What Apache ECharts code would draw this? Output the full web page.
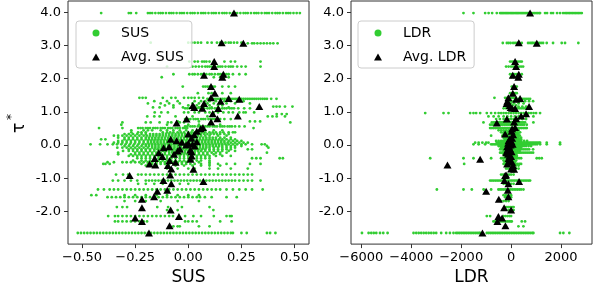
<!DOCTYPE html>
<html><head><meta charset="utf-8">
<script src="https://cdn.jsdelivr.net/npm/echarts@6/dist/echarts.min.js"></script>
<style>html,body{margin:0;padding:0;background:#fff}#c{width:594px;height:291px}</style>
</head><body><div id="c"></div>
<script>
const yTicks=[-2,-1,0,1,2,3,4];
const susTicks=[-0.5,-0.25,0,0.25,0.5];
const ldrTicks=[-6000,-4000,-2000,0,2000];

// green points, SUS panel: [tau, [SUS values]]
const susRows=[
[3.97,[-.41,-.28,-.27,-.245,-.19,-.18,-.17,-.155,-.14,-.13,-.12,-.105,-.09,-.08,-.07,-.055,-.04,-.03,-.02,-.005,.01,.02,.03,.045,.06,.07,.08,.095,.11,.12,.13,.145,.16,.17,.18,.195,.21,.22,.23,.245,.26,.27,.28,.295,.31,.32,.33,.345,.36,.37,.38,.395,.41,.42,.43,.445,.46,.47,.48,.495,.51,.525]],
[3.08,[-.177,0,.015,.03,.045,.06,.09,.11,.135,.15,.16,.175,.19,.2,.215,.23,.25]],
[3.06,[.28,.3,.31,.325,.34,.355,.37,.385,.4,.42]],
[2.51,[.005,.03,.045,.065,.075,.085,.1,.12,.17,.2,.22,.34]],
[2.36,[-.1,.02,.035,.05,.065,.08,.09,.1,.11,.125,.14,.15,.16,.175,.19,.2,.21,.23,.25,.27,.34]],
[2.13,[-.07,.005,.02,.03,.045,.06,.07,.085,.1,.11,.125,.14,.15,.16,.17,.18,.19,.21,.24,.27]],
[2.04,[-.125,.12,.15,.17,.19]],
[1.76,[-.026,.07,.08,.09,.1,.115,.125,.16,.19,.22]],
[1.56,[.045,.095,.11,.125,.16,.2]],
[1.42,[-.23,-.215,-.2,-.12,-.08,-.06,-.02,0,.015,.03,.05,.07]],
[1.39,[.09,.1,.11,.12,.13,.14,.15,.16,.17,.18,.19,.2,.21,.22,.23,.24,.25,.26,.27,.28,.29,.3,.31,.32,.33,.34,.35,.36,.37,.39,.415]],
[1.32,[-.16,-.1,-.05,.03,.06,.08,.1,.13,.17,.2,.23,.26]],
[1.25,[-.19,-.13,-.09,-.04,.02,.05,.09,.12,.15,.18,.22,.29]],
[1.19,[-.11,-.07,0,.04,.07,.1,.14,.16]],
[1.155,[.4,.415,.43,.455,.49]],
[1.13,[-.166,-.135,-.07,-.025,.05,.11,.19]],
[1.105,[-.015,-.005,.005,.02,.03,.04,.055,.065,.075,.09,.1,.11,.125,.135,.145,.16,.17,.18,.195,.205,.215,.235,.263,.29,.333]],
[0.98,[-.158,-.127,-.096,-.02,0,.03,.05,.08,.1,.12,.14,.165,.19,.21,.24,.26,.27,.31]],
[0.93,[.416,.44,.463]],
[0.86,[-.193,-.16,-.135,-.06,.02,.09,.374,.396,.416,.455]],
[0.78,[-.015,0,.01,.025,.035,.045,.06,.07,.08,.095,.105,.115,.125,.15,.17,.2]],
[0.71,[-.05,.05,.29,.314,.338]],
[0.68,[-.31,-.2,-.177,-.135,-.096,-.08,-.04,-.02,.48]],
[0.61,[-.315,-.1,-.05,0,.05,.1,.15]],
[0.56,[-.015,-.005,.01,.02,.03,.045,.055,.065,.08,.09,.1,.115,.125,.135,.15,.16,.17,.185,.195,.205,.22,.24,.265]],
[0.51,[-.42,-.31,-.236,-.225,-.215,-.2,-.19,-.18,-.165,-.155,-.145,-.13,-.12,-.11,-.095,-.085,-.075,-.06,-.05,-.04,-.025,-.015,-.005,.307]],
[0.44,[-.268,-.21,-.19,-.17,-.13,-.1,-.07,-.04,-.01,.02,.05,.08,.12,.16]],
[0.38,[-.268,-.236,-.22,-.2,-.12,-.1,-.085,-.07,-.05,-.035,-.02,0,.015,.03,.05,.065,.08,.1,.115,.13,.15,.165,.19,.21,.22]],
[0.33,[-.3,-.28,-.26,-.24,-.22,-.2,-.18,-.165,-.15,-.135,-.12,-.105,-.09,-.075,-.06,-.045,-.03,-.015,0,.015,.03,.045,.06,.075,.09,.105,.12,.135,.15,.17,.19]],
[0.28,[-.35,-.33,-.31,-.29,-.27,-.25,-.23,-.21,-.195,-.18,-.165,-.15,-.135,-.12,-.105,-.09,-.075,-.06,-.045,-.03,-.015,0,.015,.03,.045,.06,.08,.1,.14,.18]],
[0.22,[-.33,-.3,-.28,-.26,-.24,-.22,-.2,-.185,-.17,-.155,-.14,-.125,-.11,-.095,-.08,-.065,-.05,-.035,-.02,-.005,.01,.025,.04,.055,.07,.085,.1,.115,.13,.15,.17,.2]],
[0.17,[-.41,-.39,-.3,-.28,-.26,-.24,-.22,-.2,-.185,-.17,-.155,-.14,-.125,-.11,-.095,-.08,-.065,-.05,-.035,-.02,-.005,.01,.025,.04,.055,.07,.085,.1,.115,.13,.145,.16,.18,.2,.22]],
[0.12,[-.33,-.31,-.29,-.27,-.25,-.23,-.21,-.19,-.175,-.16,-.145,-.13,-.115,-.1,-.085,-.07,-.055,-.04,-.025,-.01,.005,.02,.035,.05,.065,.08,.095,.11,.125,.14,.155,.17,.19,.21,.23,.25]],
[0.07,[-.35,-.33,-.31,-.29,-.27,-.25,-.23,-.21,-.19,-.175,-.16,-.145,-.13,-.115,-.1,-.085,-.07,-.055,-.04,-.025,-.01,.005,.02,.035,.05,.065,.08,.095,.11,.125,.14,.155,.17,.185,.2,.22,.24,.26,.28]],
[0.02,[-.46,-.415,-.38,-.355,-.335,-.315,-.295,-.275,-.255,-.235,-.215,-.2,-.185,-.17,-.155,-.14,-.125,-.11,-.095,-.08,-.065,-.05,-.035,-.02,-.005,.01,.025,.04,.055,.07,.085,.1,.115,.13,.145,.16,.175,.19,.21,.23,.25,.27,.3,.345,.36]],
[-0.03,[-.3,-.28,-.26,-.24,-.22,-.2,-.185,-.17,-.155,-.14,-.125,-.11,-.095,-.08,-.065,-.05,-.035,-.02,-.005,.01,.025,.04,.055,.07,.085,.1,.115,.13,.145,.16,.18,.2,.22,.25,.37]],
[-0.08,[-.334,-.31,-.29,-.27,-.25,-.23,-.21,-.19,-.17,-.155,-.14,-.125,-.11,-.095,-.08,-.065,-.05,-.035,-.02,-.005,.01,.025,.04,.055,.07,.085,.1,.12,.14,.16,.18,.2,.22,.377]],
[-0.13,[-.28,-.26,-.24,-.22,-.2,-.18,-.16,-.145,-.13,-.115,-.1,-.085,-.07,-.055,-.04,-.025,-.01,.005,.02,.035,.05,.065,.08,.1,.12,.14,.16,.18,.2,.28,.3]],
[-0.18,[-.307,-.28,-.26,-.24,-.22,-.2,-.18,-.16,-.14,-.12,-.105,-.09,-.075,-.06,-.045,-.03,-.015,0,.015,.03,.045,.06,.08,.1,.12,.14,.16,.19,.22]],
[-0.23,[-.33,-.25,-.23,-.21,-.19,-.17,-.15,-.13,-.11,-.09,-.075,-.06,-.045,-.03,-.015,0,.015,.03,.05,.07,.09,.11,.13,.15,.18,.37]],
[-0.28,[-.33,-.27,-.25,-.23,-.21,-.19,-.17,-.15,-.13,-.11,-.09,-.07,-.05,-.035,-.02,-.005,.01,.03,.05,.07,.09,.12,.15]],
[-0.33,[-.28,-.26,-.24,-.22,-.2,-.18,-.16,-.14,-.12,-.1,-.08,-.06,-.04,-.02,0,.02,.04,.06,.08,.1,.13,.16,.2]],
[-0.40,[-.24,-.22,-.2,-.18,-.16,-.14,-.12,-.1,-.08,-.06,-.04,-.02,0,.02,.04,.06,.08,.1,.3,.32,.34,.43,.445]],
[-0.47,[-.26,-.22,-.2,-.18,-.16,-.14,-.12,-.1,-.08,-.06,-.04,-.02,0,.02,.04,.06,.1]],
[-0.52,[-.38,-.35,-.31,-.29,-.27,-.25,-.23,-.21,-.19,-.17,-.15,-.13,-.11,-.09,-.07,-.05,-.03,-.01,.05,.1]],
[-0.57,[-.40,-.39,-.37,-.22,-.19,-.17,-.15,-.13,-.11,-.09,-.07,-.05,-.03,-.01,.01,.03,.06,.1,.14,.18,.22,.29,.34]],
[-0.62,[-.2,-.15,-.1,-.06,-.02,.02,.06,.1,.15]],
[-0.71,[-.1,-.05,0,.03,.1,.14,.2,.28]],
[-0.89,[-.34,-.307,-.283,-.236,-.22,-.2,-.18,-.16,-.14,-.12,-.1,-.08,-.06,-.04,-.02,0,.02,.04,.06,.08,.1,.12,.14,.16,.18,.2,.22,.24,.26,.28,.3]],
[-1.07,[-.355,-.33,-.3,-.27,-.24,-.2,-.185,-.17,-.155,-.14,-.125,-.11,-.095,-.08,-.065,-.05,-.035,-.02,-.005,.01,.025,.04,.055,.07,.085,.1,.115,.13,.145,.16,.175,.19,.205,.22,.24,.26,.28,.3,.34]],
[-1.17,[-.236,-.2,-.16,-.12,-.08,-.04,0]],
[-1.34,[-.425,-.397,-.37,-.35,-.33,-.31,-.29,-.27,-.25,-.23,-.21,-.19,-.17,-.15,-.13,-.11,-.09,-.07,-.05,-.03,-.01,.01,.03,.05,.07,.09,.11,.13,.15,.18,.21,.24,.27,.3,.35]],
[-1.51,[-.456,-.433,-.3,-.25,-.2,-.15,-.1,-.05,0,.05]],
[-1.57,[-.38,-.36,-.34,-.32,-.3,-.28,-.26,-.24,-.22,-.2,-.18,-.16,-.14,-.12,-.1,-.08,-.06,-.04,-.02,0,.02,.04,.055,.078,.11,.18,.228]],
[-1.69,[-.3,-.25,-.2,-.13,-.05,.05]],
[-1.87,[-.336,-.31,-.288,-.146,-.095,-.03,.1]],
[-1.96,[-.1,-.05,.118]],
[-2.14,[-.377,-.345,-.33,-.31,-.29,-.27,-.25,-.23,-.21,-.19,-.17,-.15,-.13,-.11,-.09,-.072,-.015,.024,.06,.12,.18,.196,.204]],
[-2.30,[-.345,-.33,-.31,-.29,-.27,-.25,-.23,-.21,-.194,-.015,0,.02,.04,.15,.204]],
[-2.45,[-.07,-.05,-.04,.05,.1]],
[-2.65,[-.52,-.505,-.49,-.475,-.46,-.445,-.43,-.415,-.4,-.385,-.37,-.355,-.34,-.325,-.31,-.295,-.28,-.265,-.25,-.235,-.22,-.205,-.19,-.175,-.16,-.145,-.13,-.115,-.1,-.085,-.07,-.055,-.04,-.025,-.01,.005,.02,.035,.05,.065,.08,.095,.11,.125,.14,.155,.17,.185,.2,.21,.25,.275,.37,.385,.41]]
];

// green points, LDR panel: [tau, [LDR values]]
const ldrRows=[
[3.97,[-1907,-1507,-1040,-900,-760,-573,-440,-390,-340,-290,-240,-190,-140,-90,-40,10,60,110,160,210,260,310,360,410,460,510,560,610,660,710,760,810,880,940,1000,1060,1120,1160,1360,1440,1600,1680,1840,1960,2080,2160,2220,2280,2340,2400,2460,2520,2580,2640,2700,2760,2830]],
[3.07,[-333,-170,-100,-20,80,160,240,320,427,680,760,827,880,960,1040,1120,1200,1280,1427,1680,2027,2160,2693]],
[2.51,[-40,40,120,200,280,360,427]],
[2.36,[-200,-100,0,80,160,240,320,400,480]],
[2.13,[-40,40,120,200,280,427]],
[2.04,[0,100,200]],
[1.76,[27,100,160,227]],
[1.56,[-40,60,160,227]],
[1.42,[-667,-240,-160,-80,0,80,160]],
[1.39,[200,280,360,440,520,600,680,760]],
[1.32,[-173,-80,0,100,240,400,560,720,880]],
[1.25,[-120,0,120,300,500]],
[1.19,[-200,-60,60,200]],
[1.155,[300,450,600]],
[1.105,[-300,-200,-100,0,80,160,240,320,400,480,560,640,720]],
[0.96,[-3440,-2707,-2507,-1640,-1507,-1400,-1240,-973,-800,-640,-500,-400,-300,-200,-100,0,100,200,300,400,500,600,700,800,900,1000,1160]],
[0.86,[-907,-700,-500,-300,-150,0,150,300,450,600,893]],
[0.78,[-600,-450,-300,-200,-100,0,100,200,300,450,600]],
[0.68,[-1107,-773,-700,-640,-580,-520,-460,-400,-340,-280,-220,-160,-100,-40,20,80,140,200,260,320,380,440,500,560,893]],
[0.61,[-840,-760,-680,-600,-520,-440,-360,-280,-200,-120,-40,40,120,200,280,360,440,520,627]],
[0.51,[-840,-770,-700,-630,-560,-490,-420,-350,-280,-210,-140,-70,0,70,140,210,280,350,420,490,560,627]],
[0.44,[-500,-400,-300,-200,-100,0,100,200,300]],
[0.38,[-400,-300,-220,-140,-60,20,100,180,260,360]],
[0.33,[-300,-240,-180,-120,-60,0,60,120,180,240,300]],
[0.28,[-800,-350,-280,-210,-140,-70,0,70,140,210,280,350]],
[0.22,[-300,-240,-180,-120,-60,0,60,120,180,240,300,400]],
[0.17,[-250,-190,-130,-70,-10,50,110,170,230,290,350,400]],
[0.12,[-600,-500,-400,-320,-240,-160,-80,0,80,160,240,320,400,520,640]],
[0.07,[-1440,-1300,-1150,-1000,-907,-573,-510,-450,-390,-330,-270,-210,-150,-90,-30,30,90,150,210,270,330,390,450,510,570,630,690,750,810,870,930,990,1050,1110,1160,1427,1960]],
[0.02,[-1507,-1300,-1040,-800,-740,-680,-620,-560,-500,-440,-380,-320,-260,-200,-140,-80,-20,40,100,160,220,280,340,400,460,520,580,640,700,760,820,880,960,1040,1160,1427,1960]],
[-0.03,[-500,-440,-380,-320,-260,-200,-140,-80,-20,40,100,160,220,280,340,400,460,520,600,700,800]],
[-0.08,[-400,-320,-240,-160,-80,0,80,160,240,320,400]],
[-0.13,[-440,-380,-320,-260,-200,-140,-80,-20,40,100,160,220,280,340,400,480,560,640,720,880]],
[-0.18,[-300,-220,-140,-60,20,100,180,260,340]],
[-0.23,[-440,-380,-320,-260,-200,-140,-80,-20,40,100,160,220,280,340,400,480,560,640,720,800,880]],
[-0.28,[-300,-220,-140,-60,20,100,200]],
[-0.33,[-250,-170,-90,-10,70,150,230]],
[-0.40,[-3240,-1907,-1507,-800,-400,-320,-240,-160,-80,0,80,160,240,320,400,1027,1127,1227]],
[-0.47,[-300,-200,-100,0,100,200]],
[-0.52,[-250,-150,-50,50,150]],
[-0.57,[-1880,-300,-220,-140,-60,20,100,180,260,340,400]],
[-0.62,[-200,-100,0,100,200,300]],
[-0.71,[-200,-120,-40,40,120,200,300]],
[-0.89,[-400,-320,-240,-160,-80,0,100]],
[-1.07,[-840,-770,-700,-630,-560,-490,-420,-350,-280,-210,-140,-70,0,70,140,210,280,350,420,490,560,630,700,760]],
[-1.17,[-300,-200,-100,0,100]],
[-1.34,[-2973,-1907,-1573,-1100,-800,-507,-440,-370,-300,-230,-160,-90,-20,50,120,190,260,330,400,493]],
[-1.51,[-300,-200,-100,0]],
[-1.57,[-240,-160,-80,0]],
[-1.69,[-400,-300,-200,-100]],
[-1.87,[-200,-120,-40,40,100]],
[-1.96,[-100,0,100]],
[-2.14,[-973,-840,-300,-220,-140,-60,0]],
[-2.30,[-707,-640,-570,-500,-430,-360,-290,-220,-150,-80,-10,27,427,560]],
[-2.45,[293,493]],
[-2.65,[-5973,-5707,-5600,-5500,-5400,-5250,-5120,-4947,-3907,-3800,-3700,-3600,-3500,-3400,-3300,-3200,-3100,-3000,-2800,-2600,-2450,-2307,-2200,-2130,-2060,-1990,-1920,-1850,-1780,-1710,-1640,-1570,-1500,-1430,-1360,-1290,-1240,-973,-900,-830,-760,-690,-620,-550,-480,-410,-340,-270,-200,-130,-60,10,80,150,220,290,360,430,500,570,640,710,780,850,893,1960,2093,2333]]
];

// averages per tau level
const avgTau=[3.97,3.08,3.06,2.51,2.36,2.13,2.10,2.04,1.76,1.56,1.42,1.40,1.38,1.32,1.25,1.19,1.155,1.13,1.105,1.10,0.94,0.87,0.79,0.78,0.69,0.66,0.53,0.49,0.41,0.33,0.31,0.20,0.17,0.13,0.10,0.08,0.05,0.02,0.00,-0.03,-0.05,-0.08,-0.12,-0.15,-0.18,-0.20,-0.23,-0.28,-0.33,-0.35,-0.41,-0.43,-0.47,-0.52,-0.57,-0.60,-0.62,-0.72,-0.73,-0.90,-0.92,-1.07,-1.10,-1.17,-1.36,-1.39,-1.56,-1.63,-1.89,-1.96,-2.15,-2.20,-2.30,-2.43,-2.65];
const avgSUS=[0.215,0.157,0.259,0.122,0.122,0.165,0.074,0.160,0.107,0.125,0.107,0.190,0.240,0.152,0.074,0.021,0.334,0.028,0.066,0.141,0.115,0.233,0.137,-0.008,0.107,-0.055,0.069,0.058,0.040,0.000,0.028,0.015,-0.083,-0.055,0.040,-0.030,0.000,0.020,-0.010,0.030,-0.090,-0.116,-0.040,0.010,-0.050,0.015,-0.139,-0.067,0.016,-0.122,-0.158,0.010,-0.088,-0.060,-0.182,-0.155,-0.096,-0.080,0.024,-0.085,-0.276,-0.117,0.071,-0.080,-0.099,-0.146,-0.161,-0.218,-0.218,-0.083,-0.044,-0.250,-0.218,-0.088,-0.185];
const avgLDR=[760,308,1028,160,200,308,68,290,120,68,-108,360,200,-150,-180,-60,720,-20,40,160,600,400,200,-170,120,-572,160,40,20,-240,80,40,-60,-100,20,-40,-120,60,-20,-80,-160,-100,-40,-150,-60,20,-200,-120,-60,0,-100,-1240,-60,40,-160,-2548,80,0,120,-200,-240,-268,320,-108,-132,-1000,-108,-492,-280,0,-508,-360,-548,-228,-1148];

function flat(rows){const o=[];rows.forEach(r=>r[1].forEach(x=>o.push([x,r[0]])));return o;}
function pairs(xs){return xs.map((x,i)=>[x,avgTau[i]]);}

const FONT='DejaVu Sans';
const GREEN='#32cd32';
const AX='#333';
function xAx(gi,min,max,ticks,fmt,name){
  return {gridIndex:gi,type:'value',min:min,max:max,name:name,nameLocation:'middle',nameGap:21,
    nameTextStyle:{fontFamily:FONT,fontSize:17,color:'#000'},
    axisLine:{show:false,onZero:false},splitLine:{show:false},
    axisTick:{show:true,length:4,inside:false,customValues:ticks,lineStyle:{color:AX,width:1}},
    axisLabel:{customValues:ticks,formatter:fmt,margin:7,fontFamily:FONT,fontSize:13,color:'#000'}};
}
function yAx(gi){
  return {gridIndex:gi,type:'value',min:-2.984,max:4.335,
    axisLine:{show:false,onZero:false},splitLine:{show:false},
    axisTick:{show:true,length:4,customValues:yTicks,lineStyle:{color:AX,width:1}},
    axisLabel:{customValues:yTicks,formatter:v=>v.toFixed(1),margin:7,fontFamily:FONT,fontSize:13,color:'#000'}};
}
function leg(left,names){
  return {left:left,top:21,orient:'vertical',data:names,itemWidth:8,itemHeight:7,itemGap:8,symbolKeepAspect:true,
    padding:[4,8,3,16],borderColor:'#cccccc',borderWidth:1,borderRadius:3,backgroundColor:'rgba(255,255,255,0.8)',
    textStyle:{fontFamily:FONT,fontSize:14,color:'#000',lineHeight:16,padding:[0,0,0,16]}};
}
const chart=echarts.init(document.getElementById('c'),null,{renderer:'canvas'});
chart.setOption({
  animation:false,
  backgroundColor:'#fff',
  grid:[
    {left:68,top:1,width:241,height:247,show:true,borderColor:AX,borderWidth:1,backgroundColor:'transparent'},
    {left:351,top:1,width:241,height:247,show:true,borderColor:AX,borderWidth:1,backgroundColor:'transparent'}
  ],
  xAxis:[
    xAx(0,-0.566,0.568,susTicks,v=>v.toFixed(2).replace('-','\u2212'),'SUS'),
    xAx(1,-6412,3240,ldrTicks,v=>String(v).replace('-','\u2212'),'LDR')
  ],
  yAxis:[yAx(0),yAx(1)],
  legend:[leg(76,['SUS','Avg. SUS']),leg(358,['LDR','Avg. LDR'])],
  graphic:[
    {type:'text',x:20,y:128,rotation:Math.PI/2,style:{text:'\u03c4',font:'17px "DejaVu Sans"',fill:'#000',align:'center',verticalAlign:'middle'}},
    {type:'text',x:12,y:117,rotation:Math.PI/2,style:{text:'*',font:'12px "DejaVu Sans"',fill:'#000',align:'center',verticalAlign:'middle'}}
  ],
  series:[
    {name:'SUS',type:'scatter',xAxisIndex:0,yAxisIndex:0,data:flat(susRows),symbol:'circle',symbolSize:2.8,itemStyle:{color:GREEN,opacity:1},z:2},
    {name:'Avg. SUS',type:'scatter',xAxisIndex:0,yAxisIndex:0,data:pairs(avgSUS),symbol:'triangle',symbolSize:[8,7],itemStyle:{color:'#000',opacity:1},z:3},
    {name:'LDR',type:'scatter',xAxisIndex:1,yAxisIndex:1,data:flat(ldrRows),symbol:'circle',symbolSize:2.8,itemStyle:{color:GREEN,opacity:1},z:2},
    {name:'Avg. LDR',type:'scatter',xAxisIndex:1,yAxisIndex:1,data:pairs(avgLDR),symbol:'triangle',symbolSize:[8,7],itemStyle:{color:'#000',opacity:1},z:3}
  ]
});
</script></body></html>
